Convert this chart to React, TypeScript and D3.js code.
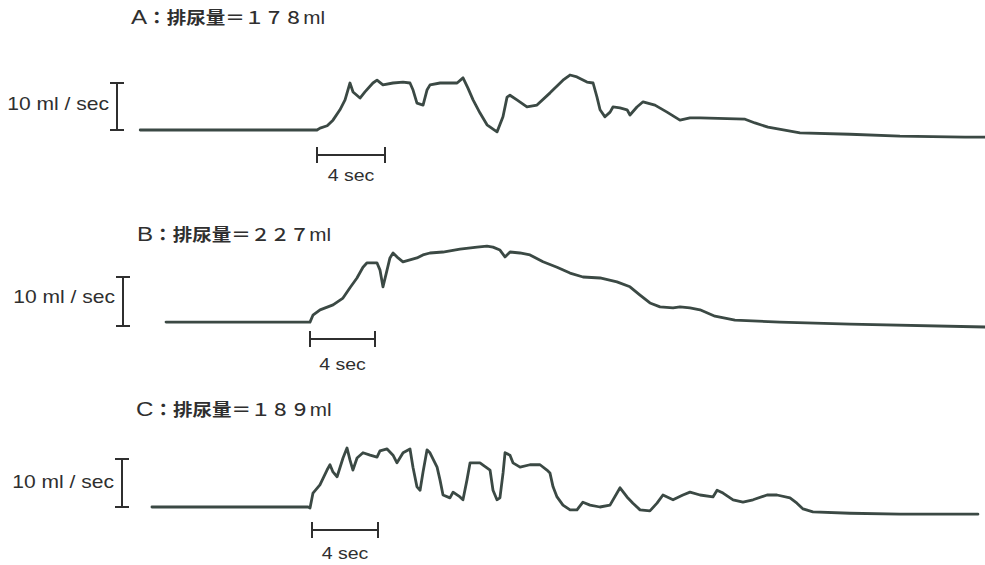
import { scaleLinear, line } from "d3";

const width = 985;
const height = 565;

// uroflow traces: [time (sec from onset), flow (ml/sec)]
const traceA: [number, number][] = [
  [-10.4, 0], [0, 0], [0.18, 0.4], [0.6, 0.9], [0.94, 2.1], [1.35, 4.3], [1.65, 6.4], [1.94, 10.0],
  [2.12, 8.1], [2.53, 6.8], [2.82, 8.1], [3.29, 10.0], [3.53, 10.6], [3.88, 9.6], [4.47, 10.0],
  [5.06, 10.2], [5.47, 10.0], [5.65, 8.5], [5.88, 5.7], [6.24, 5.3], [6.47, 8.5], [6.65, 9.6],
  [7.24, 10.0], [8.24, 10.0], [8.59, 11.1], [8.88, 8.9], [9.18, 6.4], [9.59, 3.6], [10.0, 1.1],
  [10.59, -0.4], [10.94, 2.8], [11.18, 7.0], [11.35, 7.4], [11.76, 6.4], [12.35, 4.9], [12.94, 5.3],
  [13.71, 7.9], [14.47, 10.6], [14.88, 11.7], [15.29, 11.3], [15.88, 10.2], [16.24, 10.0],
  [16.47, 7.0], [16.65, 4.3], [16.94, 2.8], [17.24, 3.8], [17.41, 4.9], [17.82, 4.7], [18.24, 4.3],
  [18.41, 3.2], [18.82, 4.9], [19.18, 6.0], [19.88, 5.3], [20.59, 3.8], [21.35, 2.1], [21.94, 2.6],
  [22.53, 2.6], [25.18, 2.3], [25.76, 1.5], [26.53, 0.6], [28.41, -0.6], [31.35, -0.9],
  [34.29, -1.3], [38.12, -1.5], [39.29, -1.5],
];

const traceB: [number, number][] = [
  [-8.86, 0.8], [0, 0.8], [0.18, 2.2], [0.62, 3.3], [1.42, 4.3], [2.03, 5.7], [2.46, 7.8],
  [2.89, 9.8], [3.26, 12.0], [3.51, 12.9], [4.12, 12.9], [4.31, 11.4], [4.49, 8.0], [4.74, 11.4],
  [4.92, 13.9], [5.11, 14.9], [5.42, 13.9], [5.72, 13.1], [6.15, 13.5], [6.58, 13.9], [6.95, 14.5],
  [7.38, 14.9], [8.18, 15.1], [9.23, 15.7], [10.28, 16.1], [10.89, 16.3], [11.26, 16.1],
  [11.69, 15.5], [12.0, 14.1], [12.31, 15.1], [12.92, 14.9], [13.54, 14.5], [14.34, 13.1],
  [15.2, 12.0], [16.0, 10.8], [16.8, 10.0], [17.85, 9.8], [18.89, 9.0], [19.69, 8.0], [20.31, 6.3],
  [20.92, 4.7], [21.54, 3.9], [22.34, 3.7], [22.77, 3.9], [23.38, 3.7], [24.0, 3.3], [24.92, 2.0],
  [26.15, 1.2], [28.92, 0.8], [33.23, 0.4], [41.54, -0.2],
];

const traceC: [number, number][] = [
  [-9.7, 0], [-0.24, 0], [-0.12, -0.2], [0.06, 2.9], [0.48, 4.6], [0.91, 7.7], [1.09, 8.8],
  [1.27, 7.3], [1.52, 6.3], [1.88, 10.2], [2.12, 12.3], [2.3, 9.8], [2.48, 7.7], [2.73, 10.2],
  [3.09, 11.3], [3.52, 10.8], [3.94, 10.4], [4.12, 11.7], [4.55, 12.1], [4.91, 10.8], [5.15, 9.2],
  [5.52, 11.3], [5.94, 12.1], [6.12, 8.3], [6.36, 4.2], [6.55, 3.5], [6.73, 7.3], [6.97, 11.9],
  [7.15, 11.3], [7.58, 8.3], [7.76, 5.6], [7.94, 2.5], [8.36, 1.9], [8.55, 3.1], [8.97, 2.1],
  [9.15, 1.5], [9.39, 5.6], [9.58, 9.2], [10.18, 9.2], [10.79, 7.7], [10.97, 3.5], [11.21, 1.5],
  [11.39, 1.9], [11.58, 7.1], [11.7, 11.3], [12.0, 10.8], [12.18, 9.2], [12.61, 8.3], [13.21, 8.8],
  [13.82, 8.8], [14.24, 7.7], [14.42, 7.1], [14.61, 4.2], [14.85, 2.1], [15.21, 0.4], [15.64, -0.6],
  [16.06, -0.6], [16.42, 1.0], [16.85, 0.4], [17.45, 0], [18.06, 0.4], [18.67, 4.0], [19.09, 2.1],
  [19.45, 0.8], [19.88, -0.6], [20.48, -0.8], [20.91, 0.8], [21.27, 2.5], [21.88, 1.5], [22.48, 2.5],
  [22.91, 3.1], [23.52, 2.5], [24.3, 2.1], [24.55, 3.5], [24.91, 2.9], [25.52, 1.5], [26.12, 1.0],
  [26.73, 1.5], [27.58, 2.5], [28.18, 2.5], [28.97, 1.9], [29.39, 0.8], [29.76, -0.4], [30.36, -1.0],
  [32.6, -1.3], [35.64, -1.5], [40.36, -1.5],
];

const letters = ["A", "B", "C"];
const volumes = ["１７８", "２２７", "１８９"];
const traces = [traceA, traceB, traceC];
const flowBar = 10; // ml/sec
const timeBar = 4; // sec

// where each panel sits on the page (scanned figure, slightly different scale per panel)
const layout = [
  { x4: [317, 385], y10: [130, 83], bracketX: 117, barY: 155, titleX: 131, titleY: 24, labelY: 110, secY: 181 },
  { x4: [310, 375], y10: [326, 277], bracketX: 123, barY: 339, titleX: 137, titleY: 241, labelY: 303, secY: 370 },
  { x4: [312, 378], y10: [507, 459], bracketX: 122, barY: 530, titleX: 136, titleY: 416, labelY: 488, secY: 559 },
];

const ink = "#3b4944";
const textInk = "#2f2f2f";
const font = "'Liberation Sans', Arial, 'Noto Sans CJK JP', sans-serif";

function Panel({ i }: { i: number }) {
  const l = layout[i];
  const xScale = scaleLinear().domain([0, timeBar]).range(l.x4);
  const yScale = scaleLinear().domain([0, flowBar]).range(l.y10);
  const path = line<[number, number]>()
    .x((d) => xScale(d[0]))
    .y((d) => yScale(d[1]));

  const bx = l.bracketX;
  const yb0 = yScale(0);
  const yb1 = yScale(flowBar);
  const tx0 = xScale(0);
  const tx1 = xScale(timeBar);

  return (
    <g>
      <text
        transform={`translate(${l.titleX},${l.titleY}) scale(1.15,1)`}
        fontFamily={font}
        fontSize={17}
        fill={textInk}
      >
        <tspan fontSize={21}>{letters[i]}</tspan>
        <tspan fontFamily="'Noto Sans CJK JP'" fontWeight={700}>：排尿量</tspan>
        <tspan fontFamily="'Noto Sans CJK JP'" fontWeight={500}>＝{volumes[i]}</tspan>
        <tspan fontSize={18}>ml</tspan>
      </text>

      {/* 10 ml/sec bracket */}
      <text
        transform={`translate(${bx - 8},${l.labelY}) scale(1.17,1)`}
        textAnchor="end"
        fontFamily={font}
        fontSize={18}
        fill={textInk}
      >
        10 ml / sec
      </text>
      <g stroke={textInk} strokeWidth={2}>
        <line x1={bx} x2={bx} y1={yb0} y2={yb1} />
        <line x1={bx - 7} x2={bx + 7} y1={yb0} y2={yb0} />
        <line x1={bx - 7} x2={bx + 7} y1={yb1} y2={yb1} />
      </g>

      {/* 4 sec bar */}
      <g stroke={textInk} strokeWidth={2}>
        <line x1={tx0} x2={tx1} y1={l.barY} y2={l.barY} />
        <line x1={tx0} x2={tx0} y1={l.barY - 8} y2={l.barY + 8} />
        <line x1={tx1} x2={tx1} y1={l.barY - 8} y2={l.barY + 8} />
      </g>
      <text
        transform={`translate(${(tx0 + tx1) / 2},${l.secY}) scale(1.22,1)`}
        textAnchor="middle"
        fontFamily={font}
        fontSize={16}
        fill={textInk}
      >
        4 sec
      </text>

      <path
        d={path(traces[i]) || ""}
        fill="none"
        stroke={ink}
        strokeWidth={2.8}
        strokeLinejoin="round"
        strokeLinecap="round"
      />
    </g>
  );
}

export default function App() {
  return (
    <div style={{ position: "absolute", left: 0, top: 0 }}>
      <svg width={width} height={height} style={{ display: "block", background: "#fff" }}>
        {letters.map((_, i) => (
          <Panel key={i} i={i} />
        ))}
      </svg>
    </div>
  );
}
